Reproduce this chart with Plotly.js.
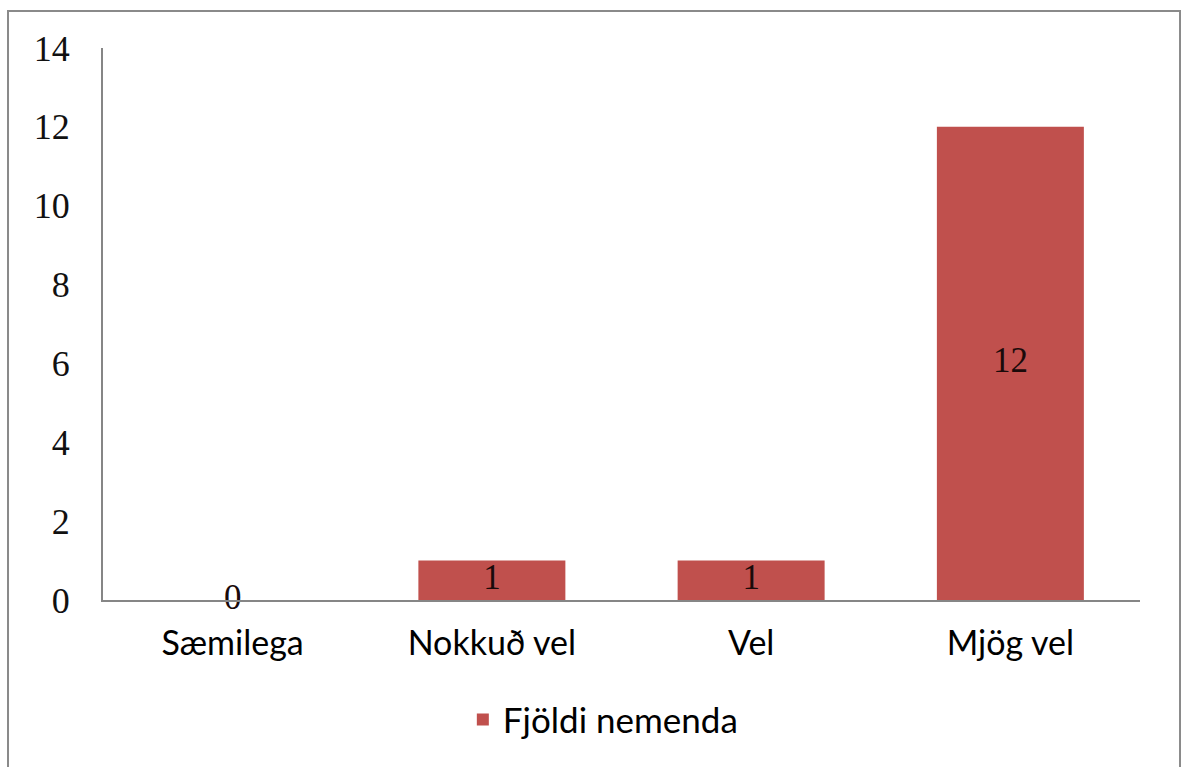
<!DOCTYPE html>
<html>
<head>
<meta charset="utf-8">
<script src="https://cdn.plot.ly/plotly-3.0.1.min.js"></script>
<style>html,body{margin:0;padding:0;background:#fff;}#chart{width:1181px;height:767px;}</style>
</head>
<body>
<div id="chart"></div>
<script>
const categories = ["Sæmilega", "Nokkuð vel", "Vel", "Mjög vel"];
const values = [0, 1, 1, 12];
const seriesName = "Fjöldi nemenda";
const yTicks = [0, 2, 4, 6, 8, 10, 12, 14];

const barColor = "#C0504D";
const serif = "Liberation Serif, DejaVu Serif, serif";
const sans = "Lato, Noto Sans, sans-serif";

const bars = {
  type: "bar",
  x: categories,
  y: values,
  name: seriesName,
  marker: {color: barColor},
  width: 0.567,
  hoverinfo: "x+y"
};
const labels = {
  type: "scatter",
  mode: "text",
  x: categories,
  y: values.map(v => v / 2),
  text: values.map(String),
  textposition: "middle center",
  textfont: {family: serif, size: 35, color: "#1a0a0a"},
  showlegend: false,
  hoverinfo: "skip",
  cliponaxis: false
};

const layout = {
  width: 1181, height: 767,
  margin: {l: 103, r: 41, t: 48, b: 167},
  paper_bgcolor: "#fff", plot_bgcolor: "#fff",
  showlegend: true,
  legend: {orientation: "h", x: 0.482, xanchor: "center", y: -0.217, yanchor: "middle",
    font: {family: sans, size: 35, color: "#000"}},
  xaxis: {
    type: "category", showgrid: false, zeroline: false,
    showline: true, linecolor: "#868686", linewidth: 2,
    ticks: "", tickfont: {family: sans, size: 34, color: "#000"},
    ticklabelstandoff: 12
  },
  yaxis: {
    range: [0, 14], tickvals: yTicks, ticktext: yTicks.map(String),
    showgrid: false, zeroline: false,
    showline: true, linecolor: "#868686", linewidth: 2,
    ticks: "", tickfont: {family: serif, size: 36, color: "#111"},
    ticklabelstandoff: 24
  },
  shapes: [{
    type: "rect", xref: "paper", yref: "paper",
    x0: -0.0916, x1: 1.0386, y0: -0.31, y1: 1.067,
    line: {color: "#8a8a8a", width: 2}, fillcolor: "rgba(0,0,0,0)", layer: "below"
  }]
};

Plotly.newPlot("chart", [bars, labels], layout, {displayModeBar: false, staticPlot: true});
</script>
</body>
</html>
